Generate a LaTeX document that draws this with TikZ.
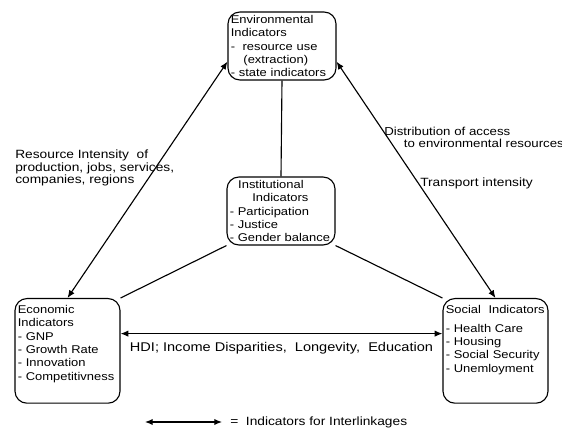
\documentclass[tikz,border=0pt]{standalone}
\usepackage{fontspec}
\setmainfont{Liberation Sans}[FakeStretch=1.15]
\usetikzlibrary{positioning}
\usetikzlibrary{arrows.meta}
\hyphenpenalty=10000

\begin{document}
\begin{tikzpicture}[x=0.025cm,y=-0.025cm,
  ind/.style={draw,rounded corners=0.3cm,line width=.8pt,align=left,inner sep=2pt,font=\fontsize{8}{9.5}\selectfont},
  lbl/.style={align=left,inner sep=0pt,font=\fontsize{8.5}{8.6}\selectfont},
  link/.style={<->,>={Latex[length=5.5pt,width=4.5pt]},line width=.8pt},
  tie/.style={line width=.8pt}]
\useasboundingbox (0,0) rectangle (562,432);
\node(env)[ind,text width=2.56cm,minimum height=1.7cm] at (282,46) {Environmental\\Indicators\\- \ resource use\\\hspace*{9pt}(extraction)\\- state indicators};
\node(inst)[ind,text width=2.56cm,minimum height=1.7cm] at (281,211) {\hspace*{6pt}Institutional\\\hspace*{16pt}Indicators\\- Participation\\- Justice\\- Gender balance};
\node(econ)[ind,text width=2.485cm,text height=8.6pt,text depth=61.8pt,anchor=north] at (67.5,298) {Economic\\Indicators\\- GNP\\- Growth Rate\\- Innovation\\- Competitivness};
\node(social)[ind,text width=2.485cm,text height=8.6pt,text depth=61.8pt,anchor=north] at (495.5,298) {Social\ \ Indicators\\[3.8pt]- Health Care\\- Housing\\- Social Security\\- Unemloyment};

\node(resint)[lbl,anchor=north west] at (15,150) {Resource Intensity\ \ of\\production, jobs, services,\\companies, regions};
\node(access)[lbl,anchor=north west,font=\fontsize{8.2}{8.6}\selectfont] at (384,127) {Distribution of access\\\hspace*{14pt}to environmental resources};
\node(transp)[lbl,anchor=west] at (420,183) {Transport intensity};

\draw[link] (env.196) -- (econ.north);
\draw[link] (env.344) -- (social.north);
\draw[tie] (env.south) -- (inst.north);
\draw[tie] (inst.south west) -- (econ.north east);
\draw[tie] (inst.south east) -- (social.north west);
\draw[link] (econ.18) -- node(hdi)[lbl,below=6pt,font=\fontsize{9}{9}\selectfont]{HDI;\ Income Disparities,\ \ Longevity,\ \ Education} (social.162);

\coordinate(k1) at (145,422);
\coordinate(k2) at (222,422);
\node(key)[lbl,anchor=west] at (230,422) {=\ \ Indicators for Interlinkages};
\draw[link] (k1) -- (k2);
\end{tikzpicture}
\end{document}
